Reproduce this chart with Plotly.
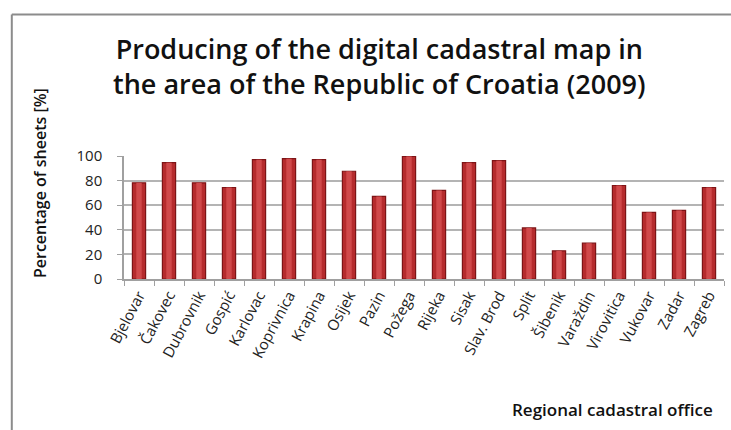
import plotly.graph_objects as go

offices = ["Bjelovar", "Čakovec", "Dubrovnik", "Gospić", "Karlovac", "Koprivnica",
           "Krapina", "Osijek", "Pazin", "Požega", "Rijeka", "Sisak", "Slav. Brod",
           "Split", "Šibenik", "Varaždin", "Virovitica", "Vukovar", "Zadar", "Zagreb"]
percent = [78.2, 94.6, 78.2, 74.4, 97.0, 97.8, 97.0, 87.6, 67.1, 99.7,
           72.0, 94.6, 96.2, 41.5, 22.9, 29.1, 76.0, 54.2, 55.8, 74.4]
y_ticks = [0, 20, 40, 60, 80, 100]

title_text = ("Producing of the digital cadastral map in<br>"
              "the area of the Republic of Croatia (2009)")

fig = go.Figure()
fig.add_trace(go.Bar(
    x=offices, y=percent,
    marker=dict(color="#b52b2d", line=dict(color="#7d1416", width=1.2)),
    width=0.44,
))
# glossy highlight (same data, narrower lighter bar)
fig.add_trace(go.Bar(
    x=offices, y=percent,
    marker=dict(color="#d0494b", line=dict(width=0)),
    width=0.18, hoverinfo="skip",
))

border = dict(color="#8c8c8c", width=2)
fig.update_layout(
    width=731, height=430,
    barmode="overlay",
    showlegend=False,
    plot_bgcolor="white", paper_bgcolor="white",
    margin=dict(l=124, r=7, t=156, b=151, autoexpand=False),
    font=dict(family="Open Sans", color="#222"),
    shapes=[
        dict(type="line", xref="paper", yref="paper",
             x0=-0.187, x1=-0.187, y0=-1.5, y1=2.15, line=border),
        dict(type="line", xref="paper", yref="paper",
             x0=-0.187, x1=1.2, y0=2.15, y1=2.15, line=border),
    ],
    annotations=[
        dict(text=title_text, xref="paper", yref="paper",
             x=0.425, y=1.73, showarrow=False, xanchor="center", yanchor="middle",
             font=dict(family="Open Sans", size=27, color="#111", weight=600)),
        dict(text="Percentage of sheets [%]", xref="paper", yref="paper",
             x=-0.14, y=0.78, textangle=-90, showarrow=False,
             xanchor="center", yanchor="middle",
             font=dict(family="Open Sans", size=16, color="#111", weight=600)),
        dict(text="Regional cadastral office", xref="paper", yref="paper",
             x=0.985, y=-1.065, showarrow=False, xanchor="right", yanchor="middle",
             font=dict(family="Open Sans", size=17, color="#111", weight=600)),
    ],
)
fig.update_xaxes(
    type="category", tickangle=-62, tickson="boundaries",
    ticks="outside", ticklen=5, tickcolor="#a0a0a0",
    showline=True, linecolor="#a0a0a0", linewidth=1.5,
    tickfont=dict(family="Open Sans", size=15, color="#222"),
    showgrid=False, automargin=False,
)
fig.update_yaxes(
    range=[0, 100], tickvals=y_ticks,
    ticks="outside", ticklen=5, tickcolor="#a0a0a0",
    showline=True, linecolor="#a0a0a0", linewidth=1.5,
    gridcolor="#b4b4b4", gridwidth=1.5,
    tickfont=dict(family="Open Sans", size=15, color="#222"),
    ticklabelstandoff=12, zeroline=False, automargin=False,
)

fig.write_html("out.html", config={"displayModeBar": False},
               post_script="document.body.style.margin='0';")
